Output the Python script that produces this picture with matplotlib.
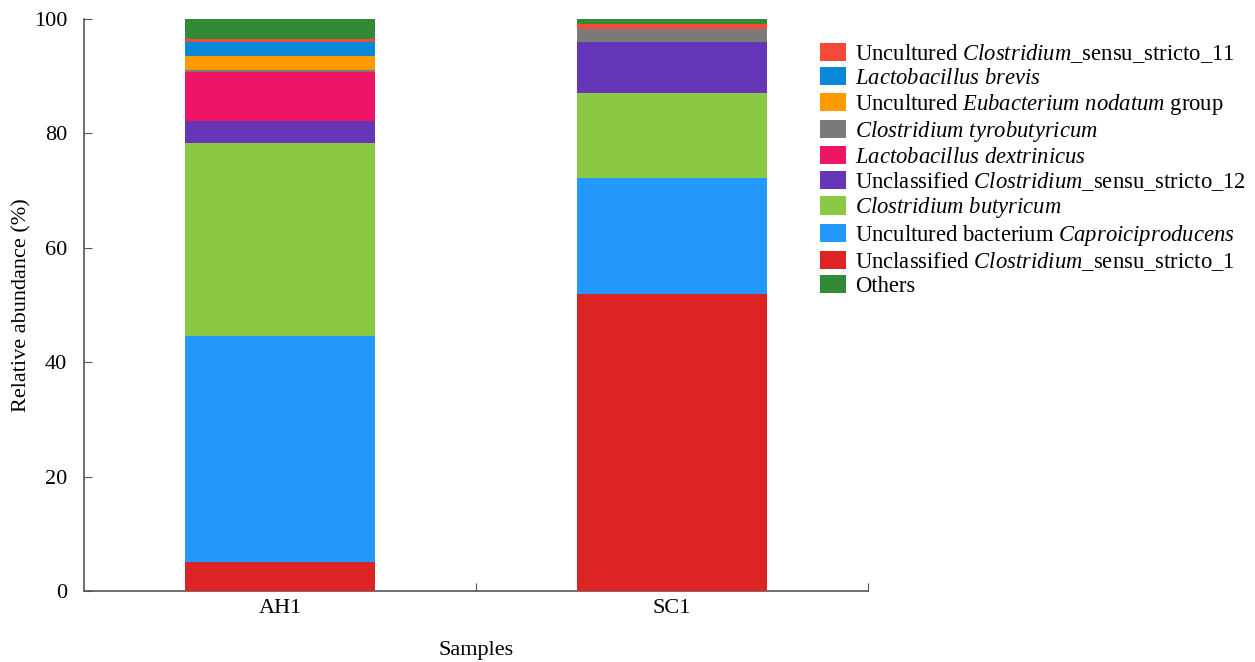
import numpy as np
import matplotlib.pyplot as plt
from matplotlib.patches import Patch

plt.rcParams['font.family'] = 'Liberation Serif'
plt.rcParams['mathtext.fontset'] = 'custom'
plt.rcParams['mathtext.rm'] = 'Liberation Serif'
plt.rcParams['mathtext.it'] = 'Liberation Serif:italic'

samples = ['AH1', 'SC1']

# bottom to top stacking order
taxa = ['Unclassified $\\mathit{Clostridium}$_sensu_stricto_1',
        'Uncultured bacterium $\\mathit{Caproiciproducens}$',
        '$\\mathit{Clostridium}$ $\\mathit{butyricum}$',
        'Unclassified $\\mathit{Clostridium}$_sensu_stricto_12',
        '$\\mathit{Lactobacillus}$ $\\mathit{dextrinicus}$',
        '$\\mathit{Clostridium}$ $\\mathit{tyrobutyricum}$',
        'Uncultured $\\mathit{Eubacterium}$ $\\mathit{nodatum}$ group',
        '$\\mathit{Lactobacillus}$ $\\mathit{brevis}$',
        'Uncultured $\\mathit{Clostridium}$_sensu_stricto_11',
        'Others']

ah1 = [5.1, 39.5, 33.7, 3.8, 8.6, 0.3, 2.6, 2.3, 0.6, 3.5]
sc1 = [51.9, 20.3, 14.8, 8.9, 0.0, 2.3, 0.0, 0.0, 1.0, 0.8]

colors = ['#dc2424', '#2399fc', '#8bc944', '#6636b8', '#ee1566',
          '#7a7a7a', '#ff9900', '#0a88d8', '#f44a3a', '#338a36']

data = np.array([ah1, sc1]).T

fig = plt.figure(figsize=(12.55, 6.62), dpi=100)
ax = fig.add_axes([0.0669, 0.1073, 0.6247, 0.864])

x = np.arange(len(samples))
bottom = np.zeros(len(samples))
for i in range(len(taxa)):
    ax.bar(x, data[i], 0.485, bottom=bottom, color=colors[i], zorder=3)
    bottom += data[i]

ax.set_xlim(-0.5, 1.5)
ax.set_ylim(0, 100)
ax.set_yticks([0, 20, 40, 60, 80, 100])
ax.set_xticks([0.5, 1.5])
ax.set_xticklabels(['', ''])
ax.set_xticks(x, minor=True)
ax.set_xticklabels(samples, minor=True, fontsize=16)
ax.tick_params(axis='x', which='minor', length=0, pad=6)
ax.tick_params(axis='x', which='major', direction='in', length=6, color='#555555')
ax.tick_params(axis='y', direction='in', length=6, color='#555555', pad=12, labelsize=16)

for s in ['top', 'right']:
    ax.spines[s].set_visible(False)
for s in ['left', 'bottom']:
    ax.spines[s].set_color('#555555')
    ax.spines[s].set_linewidth(1.2)

ax.set_ylabel('Relative abundance (%)', fontsize=16, labelpad=2)
ax.set_xlabel('Samples', fontsize=16, labelpad=16)

order = [8, 7, 6, 5, 4, 3, 2, 1, 0, 9]
handles = [Patch(facecolor=colors[i], edgecolor='none') for i in order]
labels = [taxa[i] for i in order]
fig.legend(handles, labels, loc='upper left', bbox_to_anchor=(0.637, 0.967),
           frameon=False, fontsize=16.3, handlelength=1.15, handleheight=0.85,
           handletextpad=0.4, labelspacing=0.1)

plt.savefig('out.png', dpi=100)
